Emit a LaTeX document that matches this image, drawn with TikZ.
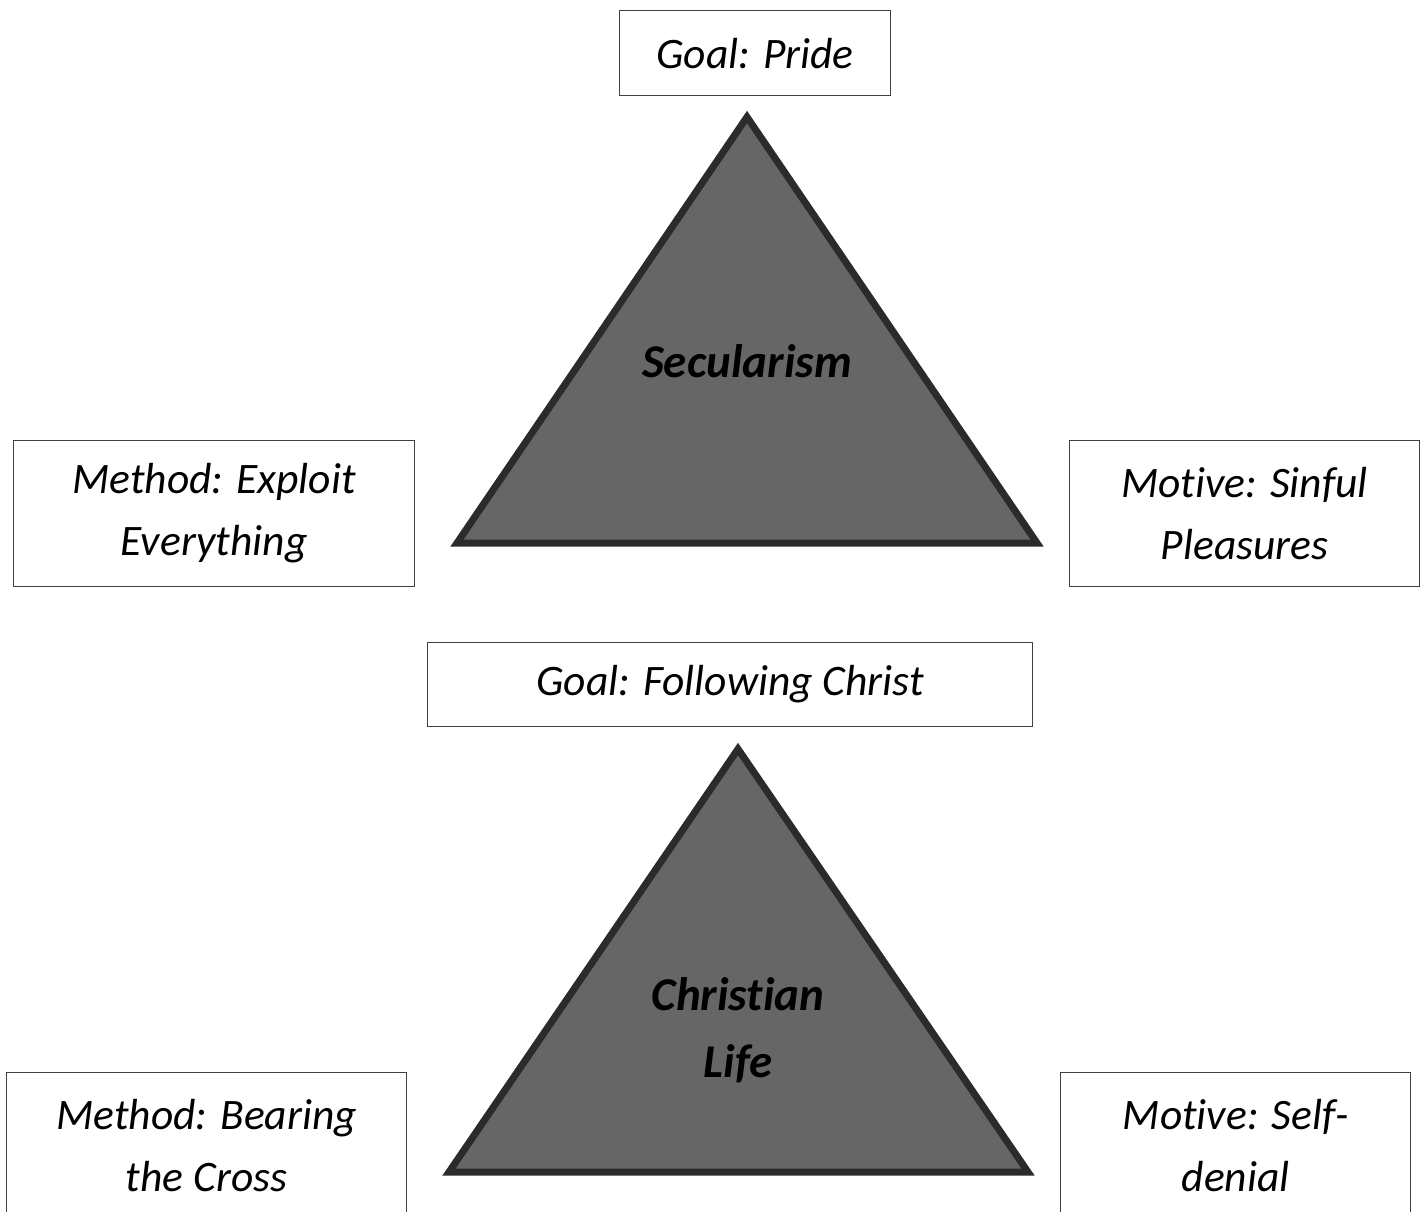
\documentclass[tikz,border=0pt]{standalone}
\usepackage{fontspec}
\setmainfont[Ligatures=NoCommon]{Carlito}
\begin{document}
\begin{tikzpicture}[x=1pt,y=-1pt,
  labelbox/.style={draw=black!75, line width=1.2pt, fill=white, inner sep=0pt,
    align=center, font=\fontsize{43.5}{62}\selectfont\itshape, anchor=north west},
  tri/.style={draw=black!83, fill=black!60, line width=7pt, line join=miter},
  trilabel/.style={font=\fontsize{47}{67}\selectfont\bfseries\itshape, align=center}]
\useasboundingbox (0,0) rectangle (1424,1211);
\clip (0,0) rectangle (1424,1211);

% upper triangle: Secularism
\coordinate (sA) at (747,117);
\coordinate (sL) at (457,543);
\coordinate (sR) at (1037,543);
\draw[tri] (sA) -- (sL) -- (sR) -- cycle;
\node[trilabel] (sec) at (747,361) {Secularism};

\node[labelbox, minimum width=271pt, minimum height=85pt] (goal1) at (619,10) {Goal: Pride};
\node[labelbox, minimum width=401pt, minimum height=146pt] (meth1) at (13,440) {Method: Exploit\\Everything};
\node[labelbox, minimum width=350pt, minimum height=146pt] (mot1) at (1069,440) {Motive: Sinful\\Pleasures};

% lower triangle: Christian Life
\coordinate (cA) at (738,749);
\coordinate (cL) at (449,1172);
\coordinate (cR) at (1028,1172);
\draw[tri] (cA) -- (cL) -- (cR) -- cycle;
\node[trilabel] (chr) at (738,1030) {Christian\\Life};

\node[labelbox, minimum width=605pt, minimum height=84pt] (goal2) at (427,642) {Goal: Following Christ};
\node[labelbox, minimum width=400pt, minimum height=146pt] (meth2) at (6,1072) {Method: Bearing\\the Cross};
\node[labelbox, minimum width=350pt, minimum height=146pt] (mot2) at (1060,1072) {Motive: Self-\\denial};
\end{tikzpicture}
\end{document}
